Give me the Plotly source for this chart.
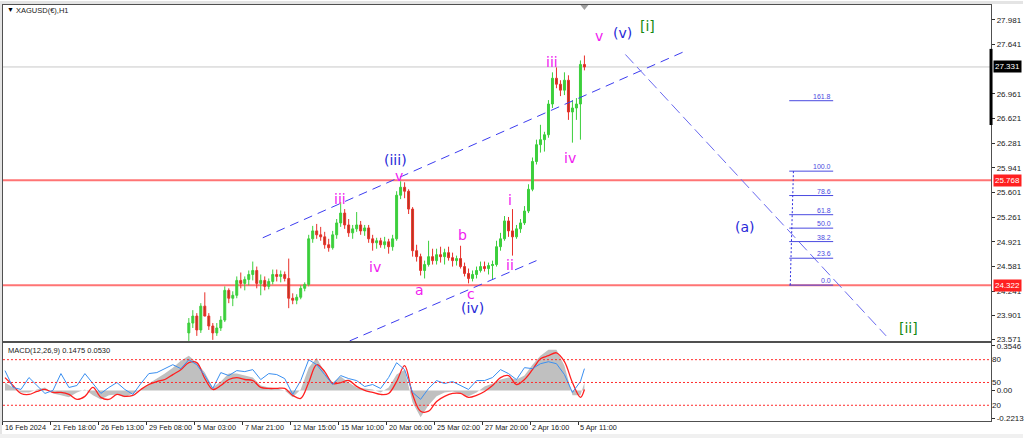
import plotly.graph_objects as go

# ---------------- DATA ----------------
# H1 candles (bar index = chart position, 4 px per bar)
bar_idx = list(range(46, 146))
opens = [23.663, 23.799, 23.895, 23.704, 24.032, 23.895, 23.758, 23.663, 23.731, 23.840,
         24.250, 24.141, 24.182, 24.387, 24.346, 24.401, 24.469, 24.524, 24.346, 24.387,
         24.305, 24.373, 24.469, 24.442, 24.469, 24.414, 24.141, 24.114, 24.155, 24.278,
         24.332, 24.961, 25.070, 25.016, 24.988, 24.879, 24.838, 25.016, 25.180, 25.316,
         25.152, 25.043, 25.098, 25.152, 25.070, 25.111, 24.961, 24.906, 24.934, 24.879,
         24.920, 24.852, 24.961, 25.562, 25.672, 25.617, 25.371, 24.797, 24.715, 24.524,
         24.606, 24.715, 24.660, 24.742, 24.715, 24.770, 24.701, 24.660, 24.688, 24.578,
         24.483, 24.414, 24.469, 24.524, 24.578, 24.551, 24.592, 24.606, 24.852, 24.961,
         25.207, 25.070, 24.988, 25.098, 25.180, 25.344, 25.644, 26.027, 26.259, 26.328,
         26.396, 26.820, 27.175, 27.093, 27.011, 27.148, 26.710, 26.765, 26.820, 27.366]
highs = [23.868, 23.977, 23.936, 24.073, 24.223, 23.936, 23.799, 23.799, 23.895, 24.305,
         24.278, 24.237, 24.442, 24.496, 24.442, 24.524, 24.647, 24.578, 24.469, 24.442,
         24.414, 24.537, 24.537, 24.524, 24.510, 24.688, 24.209, 24.196, 24.319, 24.360,
         25.016, 25.139, 25.166, 25.125, 25.057, 24.961, 25.070, 25.234, 25.467, 25.371,
         25.234, 25.152, 25.330, 25.207, 25.152, 25.152, 25.016, 24.975, 24.975, 24.988,
         24.961, 25.016, 25.617, 25.754, 25.740, 25.644, 25.398, 24.879, 24.756, 24.660,
         24.934, 24.824, 24.824, 24.852, 24.824, 24.852, 24.770, 24.729, 24.865, 24.633,
         24.551, 24.524, 24.578, 24.647, 24.647, 24.633, 24.660, 24.934, 25.043, 25.275,
         25.262, 25.371, 25.152, 25.234, 25.412, 25.713, 26.082, 26.328, 26.533, 26.437,
         26.874, 27.257, 27.325, 27.148, 27.257, 27.216, 26.874, 26.902, 27.421, 27.489]
lows = [23.553, 23.731, 23.622, 23.663, 23.977, 23.704, 23.567, 23.622, 23.690, 23.813,
        24.073, 24.032, 24.141, 24.278, 24.250, 24.319, 24.387, 24.278, 24.182, 24.250,
        24.264, 24.332, 24.373, 24.360, 24.373, 24.004, 24.059, 24.059, 24.127, 24.237,
        24.305, 24.906, 24.961, 24.934, 24.824, 24.783, 24.811, 24.961, 25.125, 25.098,
        24.988, 24.961, 25.057, 25.016, 25.002, 24.906, 24.797, 24.824, 24.838, 24.824,
        24.756, 24.797, 24.934, 25.508, 25.521, 25.303, 24.715, 24.647, 24.455, 24.414,
        24.578, 24.606, 24.606, 24.633, 24.606, 24.660, 24.578, 24.592, 24.551, 24.442,
        24.346, 24.373, 24.414, 24.496, 24.510, 24.469, 24.401, 24.578, 24.797, 24.934,
        24.988, 24.729, 24.961, 25.043, 25.152, 25.316, 25.617, 25.986, 26.150, 26.164,
        26.355, 26.765, 27.038, 26.929, 26.943, 26.601, 26.287, 26.601, 26.328, 27.284]
closes = [23.799, 23.895, 23.704, 24.032, 23.895, 23.758, 23.663, 23.731, 23.840, 24.250,
          24.141, 24.182, 24.387, 24.346, 24.401, 24.469, 24.524, 24.346, 24.387, 24.305,
          24.373, 24.469, 24.442, 24.469, 24.414, 24.141, 24.114, 24.155, 24.278, 24.332,
          24.961, 25.070, 25.016, 24.988, 24.879, 24.838, 25.016, 25.180, 25.316, 25.152,
          25.043, 25.098, 25.152, 25.070, 25.111, 24.961, 24.906, 24.934, 24.879, 24.920,
          24.852, 24.961, 25.562, 25.672, 25.617, 25.371, 24.797, 24.715, 24.524, 24.606,
          24.715, 24.660, 24.742, 24.715, 24.770, 24.701, 24.660, 24.688, 24.578, 24.483,
          24.414, 24.469, 24.524, 24.578, 24.551, 24.592, 24.606, 24.852, 24.961, 25.207,
          25.070, 24.988, 25.098, 25.180, 25.344, 25.644, 26.027, 26.259, 26.328, 26.396,
          26.820, 27.175, 27.093, 27.011, 27.148, 26.710, 26.765, 26.820, 27.366, 27.331]

# MACD pane (sampled every 2 bars)
macd_idx = list(range(0, 145, 2)) + [145]
macd_hist = [0.063, 0.024, -0.016, -0.016, 0.008, 0.024, -0.024, -0.039, -0.055, -0.016,
             0.008, -0.039, -0.071, -0.039, -0.032, -0.055, -0.024, 0.008, 0.055, 0.095,
             0.134, 0.181, 0.236, 0.276, 0.221, 0.142, 0.024, 0.071, 0.134, 0.134,
             0.118, 0.102, 0.039, 0.024, 0.016, 0.000, -0.055, 0.008, 0.181, 0.260,
             0.142, 0.063, 0.110, 0.063, 0.024, 0.016, 0.008, -0.016, 0.024, 0.126,
             0.165, -0.095, -0.213, -0.118, -0.047, -0.016, -0.008, -0.024, -0.047, -0.016,
             0.032, 0.055, 0.087, 0.102, 0.087, 0.118, 0.205, 0.276, 0.323, 0.323,
             0.197, -0.039, -0.039, 0.063]
macd_signal = [0.102, 0.039, -0.024, -0.032, -0.008, 0.008, -0.016, -0.016, -0.032, -0.071,
               -0.047, 0.024, -0.055, -0.071, -0.032, -0.047, -0.039, 0.008, 0.047, 0.071,
               0.087, 0.126, 0.165, 0.221, 0.221, 0.095, 0.008, 0.039, 0.087, 0.102,
               0.087, 0.079, 0.024, 0.016, 0.016, 0.016, -0.039, -0.063, 0.063, 0.205,
               0.150, 0.055, 0.063, 0.079, 0.032, 0.000, -0.016, -0.032, -0.024, 0.071,
               0.197, -0.032, -0.165, -0.165, -0.087, -0.047, -0.024, -0.024, -0.055, -0.039,
               -0.008, 0.039, 0.102, 0.118, 0.047, 0.087, 0.165, 0.252, 0.276, 0.299,
               0.229, 0.063, -0.055, 0.008]
osc_blue = [65.6, 43.4, 40.8, 56.5, 46.0, 35.6, 39.5, 61.7, 43.4, 46.0,
            61.7, 48.6, 35.6, 43.4, 49.9, 40.8, 34.3, 48.6, 61.7, 63.0,
            68.2, 73.4, 68.2, 79.9, 73.4, 59.1, 42.1, 63.0, 59.1, 65.6,
            64.3, 66.9, 53.8, 61.7, 60.4, 55.1, 34.3, 52.5, 79.9, 73.4,
            60.4, 47.3, 59.1, 55.1, 52.5, 44.7, 47.3, 42.1, 56.5, 76.0,
            66.9, 36.9, 27.8, 42.1, 52.5, 48.6, 51.2, 46.0, 40.8, 52.5,
            52.5, 56.5, 66.9, 61.7, 53.8, 69.5, 68.2, 74.7, 77.3, 74.7,
            60.4, 36.9, 51.2, 68.2]

time_tick_idx = [0, 12, 24, 36, 48, 60, 72, 84, 96, 108, 120, 132, 144]
time_labels = ["16 Feb 2024", "21 Feb 18:00", "26 Feb 13:00", "29 Feb 08:00", "5 Mar 03:00",
               "7 Mar 21:00", "12 Mar 15:00", "15 Mar 10:00", "20 Mar 06:00", "25 Mar 02:00",
               "27 Mar 20:00", "2 Apr 16:00", "5 Apr 11:00"]

price_ticks = [27.981, 27.641, 26.961, 26.621, 26.281, 25.941, 25.601, 25.261,
               24.921, 24.581, 24.241, 23.901, 23.571]
macd_ticks = [0.3546, 0.0, -0.2213]
macd_ticktext = ["0.3546", "0.00", "-0.2213"]
osc_levels = [20, 50, 80]

support_levels = [25.768, 24.322]
bid_price = 27.331

fib_low, fib_high = 24.322, 25.894
fib_levels = [0.0, 23.6, 38.2, 50.0, 61.8, 78.6, 100.0, 161.8]
fib_k0, fib_k1 = 196.25, 207.25
fib_anchor_k = [196.5, 197.3]

channel_upper_k, channel_upper_p = [64.5, 170.0], [24.975, 27.544]
channel_lower_k, channel_lower_p = [86.25, 133.0], [23.553, 24.660]
down_line_k, down_line_p = [155.25, 220.5], [27.503, 23.622]

MAG, BLUE, GREEN = "#f020f0", "#2828d8", "#138a13"
wave_text = ["v", "(v)", "[i]", "iii", "iv", "i", "ii", "(iii)", "v", "iii",
             "iv", "a", "b", "c", "(iv)", "(a)", "[ii]"]
wave_k = [148.75, 154.5, 160.75, 137.0, 141.5, 126.5, 126.5, 97.75, 98.5, 83.75,
          92.5, 103.75, 114.5, 116.5, 117.0, 185.25, 226.0]
wave_p = [27.763, 27.804, 27.899, 27.394, 26.082, 25.494, 24.606, 26.041, 25.822, 25.508,
          24.578, 24.250, 25.016, 24.196, 24.004, 25.125, 23.731]
wave_color = [MAG, BLUE, GREEN, MAG, MAG, MAG, MAG, BLUE, MAG, MAG,
              MAG, MAG, MAG, MAG, BLUE, BLUE, GREEN]

# ---------------- FIGURE ----------------
W, H = 1024, 441
XR = [-0.5, 246.75]
FONT = "Liberation Sans"
WFONT = "DejaVu Sans"

fig = go.Figure()

fig.add_trace(go.Candlestick(
    x=bar_idx, open=opens, high=highs, low=lows, close=closes,
    increasing=dict(line=dict(color="#3ccf3c", width=1), fillcolor="#3ccf3c"),
    decreasing=dict(line=dict(color="#e8302a", width=1), fillcolor="#b03a1e"),
    whiskerwidth=0, xaxis="x", yaxis="y", showlegend=False, hoverinfo="skip"))

fig.add_trace(go.Scatter(x=macd_idx, y=macd_hist, mode="lines", line=dict(width=0, color="#c0c0c0"),
                         fill="tozeroy", fillcolor="#c0c0c0", xaxis="x2", yaxis="y2",
                         showlegend=False, hoverinfo="skip"))
fig.add_trace(go.Scatter(x=macd_idx, y=macd_signal, mode="lines", line=dict(width=1.3, color="#ff2020", shape="spline"),
                         xaxis="x2", yaxis="y2", showlegend=False, hoverinfo="skip"))
fig.add_trace(go.Scatter(x=macd_idx, y=osc_blue, mode="lines", line=dict(width=1, color="#3a8ff0"),
                         xaxis="x2", yaxis="y3", showlegend=False, hoverinfo="skip"))

shapes = []
# outer grey window frame
shapes += [
    dict(type="rect", xref="paper", yref="paper", x0=0, x1=1, y0=(H - 3) / H, y1=1,
         fillcolor="#e4e4e4", line=dict(width=0), layer="below"),
    dict(type="rect", xref="paper", yref="paper", x0=0, x1=2 / W, y0=0, y1=1,
         fillcolor="#e4e4e4", line=dict(width=0), layer="below"),
    dict(type="rect", xref="paper", yref="paper", x0=0, x1=1, y0=0, y1=4 / H,
         fillcolor="#f0f0f0", line=dict(width=0), layer="below"),
]
# support / resistance lines
for lv in support_levels:
    shapes.append(dict(type="line", xref="x domain", yref="y", x0=0, x1=1, y0=lv, y1=lv,
                       line=dict(color="rgba(255,70,70,0.75)", width=2), layer="below"))
shapes.append(dict(type="line", xref="x domain", yref="y", x0=0, x1=1, y0=bid_price, y1=bid_price,
                   line=dict(color="#c8c8c8", width=1), layer="below"))
# channel and projection lines
shapes.append(dict(type="line", xref="x", yref="y", x0=channel_upper_k[0], x1=channel_upper_k[1],
                   y0=channel_upper_p[0], y1=channel_upper_p[1],
                   line=dict(color="#3c3cf0", width=1, dash="9px,6px")))
shapes.append(dict(type="line", xref="x", yref="y", x0=channel_lower_k[0], x1=channel_lower_k[1],
                   y0=channel_lower_p[0], y1=channel_lower_p[1],
                   line=dict(color="#3c3cf0", width=1, dash="9px,6px")))
shapes.append(dict(type="line", xref="x", yref="y", x0=down_line_k[0], x1=down_line_k[1],
                   y0=down_line_p[0], y1=down_line_p[1],
                   line=dict(color="#6a6af0", width=1, dash="12px,5px")))
# fibonacci tool
for lv in fib_levels:
    price = fib_low + (fib_high - fib_low) * lv / 100.0
    shapes.append(dict(type="line", xref="x", yref="y", x0=fib_k0, x1=fib_k1, y0=price, y1=price,
                       line=dict(color="#4a4ae0", width=1)))
shapes.append(dict(type="line", xref="x", yref="y", x0=fib_anchor_k[0], x1=fib_anchor_k[1],
                   y0=fib_low, y1=fib_high, line=dict(color="#3030e0", width=1, dash="2px,2px")))
# oscillator levels
for lv in osc_levels:
    shapes.append(dict(type="line", xref="x2 domain", yref="y3", x0=0, x1=1, y0=lv, y1=lv,
                       line=dict(color="#ff2a2a", width=1, dash="2px,2px")))
# black price scale marker
shapes.append(dict(type="rect", xref="paper", yref="y", x0=990.5 / W, x1=993.5 / W, y0=26.53, y1=27.58,
                   fillcolor="#000000", line=dict(width=0)))
# chart-shift marker at top
shapes.append(dict(type="path", xref="paper", yref="paper",
                   path=f"M {581 / W} {(H - 4) / H} L {589 / W} {(H - 4) / H} L {585 / W} {(H - 9) / H} Z",
                   fillcolor="#a0a0a0", line=dict(width=0)))

annotations = []
annotations.append(dict(text="▼", x=5 / W, y=(H - 9) / H, xref="paper", yref="paper", xanchor="left",
                        yanchor="middle", showarrow=False, font=dict(size=7, color="#000", family=FONT)))
annotations.append(dict(text="XAGUSD(€),H1", x=14 / W, y=(H - 9.5) / H, xref="paper", yref="paper",
                        xanchor="left", yanchor="middle", showarrow=False,
                        font=dict(size=7.5, color="#202020", family=FONT)))
annotations.append(dict(text="MACD(12,26,9) 0.1475 0.0530", x=6 / W, y=(H - 352.5) / H, xref="paper",
                        yref="paper", xanchor="left", yanchor="middle", showarrow=False,
                        font=dict(size=7.5, color="#202020", family=FONT)))
for k, lab in zip(time_tick_idx, time_labels):
    annotations.append(dict(text=lab, x=k - 0.5, y=(H - 430.5) / H, xref="x2", yref="paper",
                            xanchor="left", yanchor="middle", showarrow=False,
                            font=dict(size=7.3, color="#202020", family=FONT)))
for lv in fib_levels:
    price = fib_low + (fib_high - fib_low) * lv / 100.0
    annotations.append(dict(text=f"{lv:.1f}", x=fib_k1, y=price, xref="x", yref="y",
                            xanchor="right", yanchor="bottom", showarrow=False, yshift=-1,
                            font=dict(size=7, color="#4a4ae0", family=FONT)))
for t, k, p, c in zip(wave_text, wave_k, wave_p, wave_color):
    annotations.append(dict(text=t, x=k, y=p, xref="x", yref="y", showarrow=False,
                            xanchor="center", yanchor="middle", font=dict(size=14, color=c, family=WFONT)))
# price boxes on the scale
for lv, bg in [(support_levels[0], "#ff2020"), (support_levels[1], "#ff2020"), (bid_price, "#000000")]:
    annotations.append(dict(text=f"{lv:.3f}", x=994 / W, y=lv, xref="paper", yref="y",
                            xanchor="left", yanchor="middle", showarrow=False, bgcolor=bg,
                            borderpad=1, font=dict(size=8, color="#ffffff", family=FONT)))

axis_common = dict(showgrid=False, zeroline=False, showline=True, mirror=True, linecolor="#505050",
                   linewidth=1)

fig.update_layout(
    width=W, height=H, margin=dict(l=0, r=0, t=0, b=0),
    paper_bgcolor="#ffffff", plot_bgcolor="#ffffff",
    showlegend=False, hovermode=False,
    xaxis=dict(domain=[3 / W, 992 / W], range=XR, anchor="y", showticklabels=False, ticks="",
               rangeslider=dict(visible=False), **axis_common),
    yaxis=dict(domain=[(H - 343) / H, (H - 4) / H], range=[23.553, 28.186], anchor="x", side="right",
               tickvals=price_ticks, ticktext=[f"{v:.3f}" for v in price_ticks], ticks="outside",
               ticklen=3, tickcolor="#303030", tickfont=dict(size=8, color="#202020", family=FONT),
               **axis_common),
    xaxis2=dict(domain=[3 / W, 992 / W], range=XR, anchor="y2", matches="x", showticklabels=False,
                tickvals=[k - 0.5 for k in time_tick_idx], ticks="outside", ticklen=3,
                tickcolor="#303030", **axis_common),
    yaxis2=dict(domain=[(H - 424) / H, (H - 345) / H], range=[-0.244, 0.378], anchor="x2", side="right",
                tickvals=macd_ticks, ticktext=macd_ticktext, ticks="outside", ticklen=3,
                tickcolor="#303030", tickfont=dict(size=8, color="#202020", family=FONT),
                **axis_common),
    yaxis3=dict(range=[-0.9, 102.1], overlaying="y2", anchor="x2", side="right",
                tickvals=osc_levels, ticktext=[str(v) for v in osc_levels], ticks="",
                tickfont=dict(size=8, color="#202020", family=FONT), showgrid=False, zeroline=False,
                showline=False),
    shapes=shapes, annotations=annotations,
)

fig.write_html("out.html", config={"displayModeBar": False, "staticPlot": True},
               post_script="document.body.style.margin='0';document.body.style.overflow='hidden';")
